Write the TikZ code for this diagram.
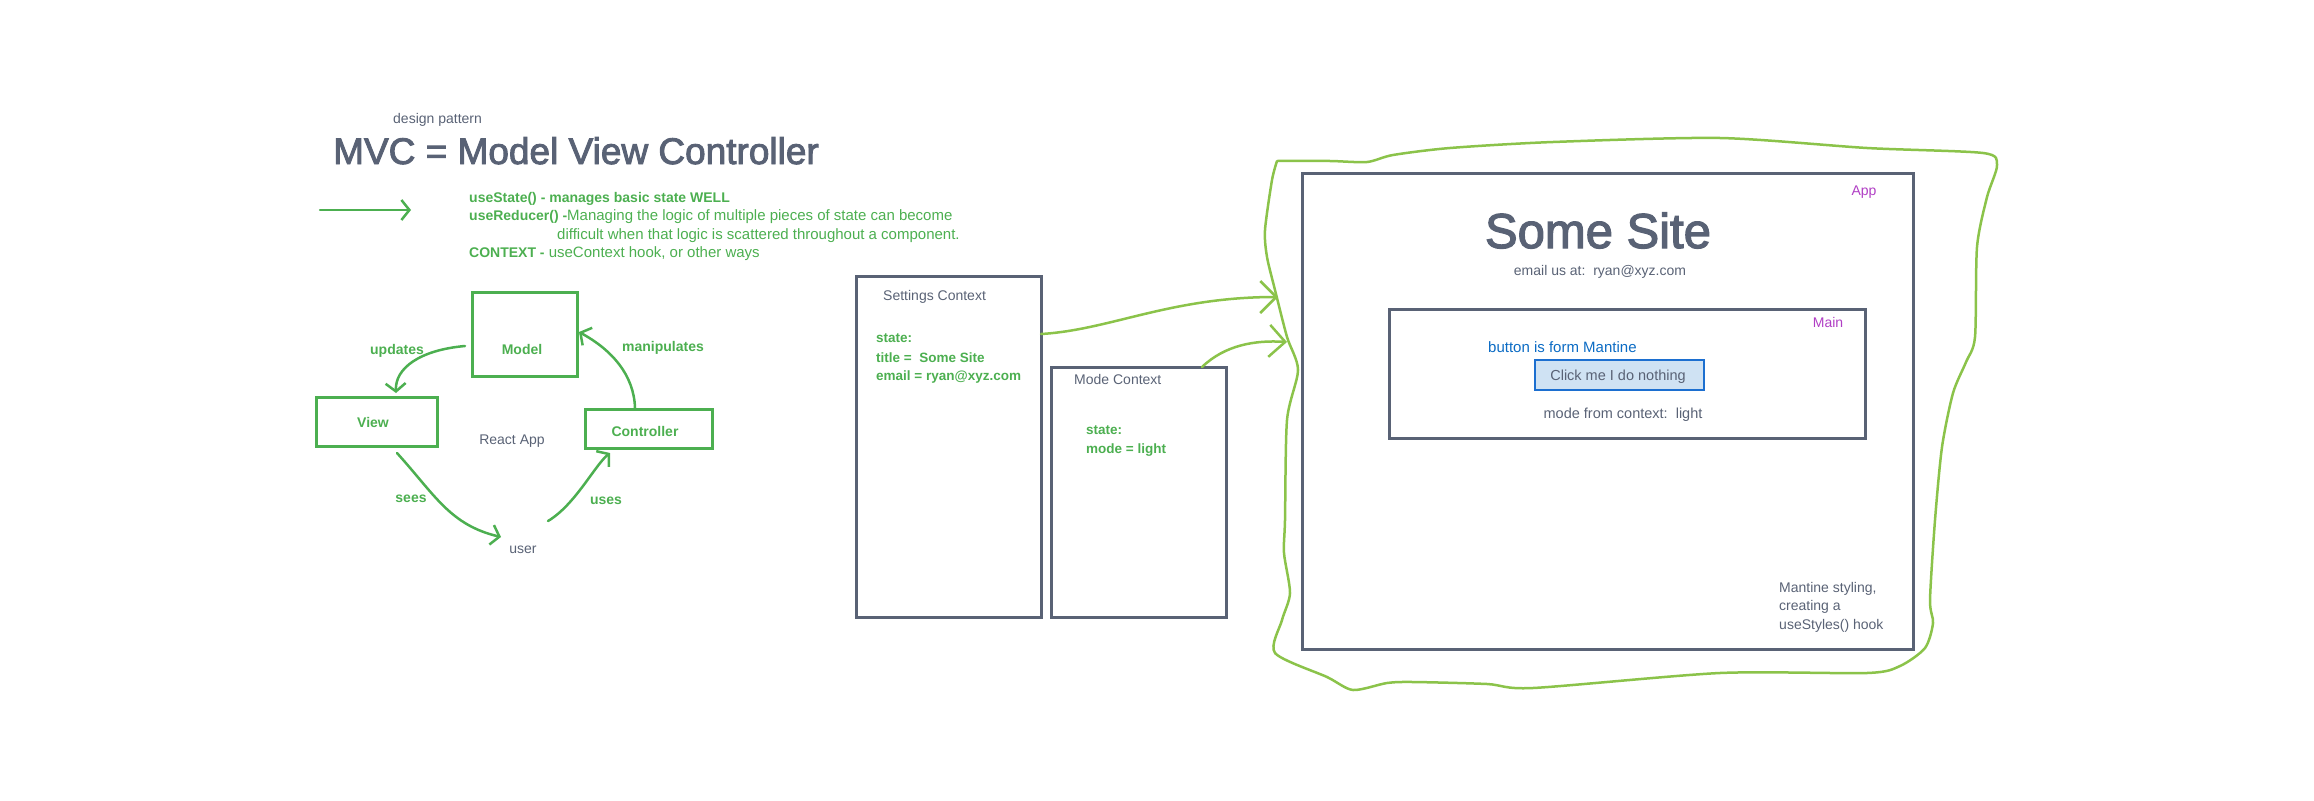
\documentclass[tikz,border=0pt]{standalone}
\usepackage{fontspec}
\setmainfont{Liberation Sans}
\newfontface\medfont{Liberation Sans}[FakeBold=2.5]
\usetikzlibrary{arrows.meta}
\definecolor{slate}{HTML}{596275}
\definecolor{mvcgreen}{HTML}{4CAF50}
\definecolor{limeline}{HTML}{8BC34A}
\definecolor{grape}{HTML}{B03EC4}
\definecolor{mblue}{HTML}{0B6BC4}
\definecolor{btnfill}{HTML}{CFE2F3}
\definecolor{btnline}{HTML}{1C6FD0}
\newcommand\setfs[1]{\fontsize{#1}{#1}\selectfont}
\begin{document}
\begin{tikzpicture}[x=1pt,y=-1pt,
  txt/.style={inner sep=0, anchor=base west, text=slate, font=\setfs{14}},
  ctxt/.style={inner sep=0, anchor=base, text=slate, font=\setfs{14}},
  gtxt/.style={inner sep=0, anchor=base west, text=mvcgreen, font=\setfs{15}},
  glabel/.style={inner sep=0, anchor=base, text=mvcgreen, font=\bfseries\setfs{14}},
  graybox/.style={draw=slate, line width=3pt, inner sep=0},
  greenbox/.style={draw=mvcgreen, line width=3pt, inner sep=0},
  garrow/.style={draw=mvcgreen, line width=2.5pt, line cap=round, line join=round,
    -{Straight Barb[length=8pt,width=20pt,line width=2.5pt]}},
  larrow/.style={draw=limeline, line width=2.5pt, line cap=round, line join=round,
    -{Straight Barb[length=16pt,width=32pt,line width=2.5pt]}},
  outline/.style={draw=limeline, line width=2.5pt, line cap=round, line join=round}
]
\useasboundingbox (0,0) rectangle (2314,800);

% ---------- title block ----------
\node[txt, font=\setfs{14}] (dp) at (393,123) {design pattern};
\node[txt, font=\medfont\setfs{37}] (title) at (333,164) {MVC = Model View Controller};
\coordinate (a0) at (320,210);
\coordinate (a1) at (411,210);
\draw[garrow] (a0) -- (a1);
\node[gtxt] (l1) at (469,202) {\bfseries\setfs{14}useState() - manages basic state WELL};
\node[gtxt] (l2) at (469,220) {{\bfseries\setfs{14}useReducer() -}Managing the logic of multiple pieces of state can become};
\node[gtxt] (l3) at (557,239) {difficult when that logic is scattered throughout a component.};
\node[gtxt] (l4) at (469,257) {{\bfseries\setfs{14}CONTEXT -} useContext hook, or other ways};

% ---------- MVC diagram ----------
\node[greenbox, minimum width=105pt, minimum height=84pt] (model) at (524.5,334) {};
\node[greenbox, minimum width=121pt, minimum height=49pt] (view) at (376.5,421.5) {};
\node[greenbox, minimum width=127pt, minimum height=39pt] (ctrl) at (648.5,428.5) {};
\node[glabel] (modelT) at (522,354) {Model};
\node[glabel] (viewT) at (373,427) {View};
\node[glabel] (ctrlT) at (645,436) {Controller};
\node[ctxt] (react) at (512,444) {React App};
\node[ctxt] (user) at (523,553) {user};
\node[glabel] (updT) at (397,354) {updates};
\node[glabel] (manT) at (663,351) {manipulates};
\node[glabel] (seeT) at (411,502) {sees};
\node[glabel] (useT) at (606,504) {uses};

\coordinate (u0) at (465,346);
\coordinate (u1) at (396,393);
\draw[garrow] (u0) .. controls (420,350) and (395,368) .. (u1);
\coordinate (m0) at (635,408);
\coordinate (m1) at (579,332);
\draw[garrow] (m0) .. controls (634,375) and (612,350) .. (m1);
\coordinate (s0) at (397,453);
\coordinate (s1) at (501,537);
\draw[garrow] (s0) .. controls (435,495) and (450,525) .. (s1);
\coordinate (c0) at (548,521);
\coordinate (c1) at (610,453);
\draw[garrow] (c0) .. controls (575,505) and (595,465) .. (c1);

% ---------- contexts ----------
\node[graybox, minimum width=185pt, minimum height=341pt] (settings) at (948.5,446.5) {};
\node[graybox, minimum width=175pt, minimum height=250pt] (mode) at (1138.5,492) {};
\node[txt] (setT) at (883,300) {Settings Context};
\node[gtxt, font=\bfseries\setfs{13.5}] (st1) at (876,342) {state:};
\node[gtxt, font=\bfseries\setfs{13.5}] (st2) at (876,362) {title =\ \ Some Site};
\node[gtxt, font=\bfseries\setfs{13.5}] (st3) at (876,380) {email = ryan@xyz.com};
\node[txt] (modeT) at (1074,384) {Mode Context};
\node[gtxt, font=\bfseries\setfs{13.5}] (mt1) at (1086,434) {state:};
\node[gtxt, font=\bfseries\setfs{13.5}] (mt2) at (1086,453) {mode = light};

% ---------- App ----------
\node[graybox, minimum width=611pt, minimum height=476pt] (app) at (1607.5,411) {};
\node[graybox, minimum width=476pt, minimum height=129pt] (main) at (1627,373.5) {};
\node[ctxt, text=grape] (appT) at (1864,195) {App};
\node[ctxt, font=\medfont\setfs{49}] (site) at (1598,248) {Some Site};
\node[ctxt, font=\setfs{14}] (email) at (1600,275) {email us at:\ \ ryan@xyz.com};
\node[ctxt, text=grape] (mainT) at (1828,327) {Main};
\node[txt, text=mblue, font=\setfs{15}] (btnT) at (1488,352) {button is form Mantine};
\node[draw=btnline, fill=btnfill, line width=2.5pt, inner sep=0,
      minimum width=169pt, minimum height=30pt] (btn) at (1619.5,375) {};
\node[ctxt, font=\setfs{14.5}] (btnL) at (1618,380) {Click me I do nothing};
\node[ctxt, font=\setfs{14.5}] (modeFrom) at (1623,418) {mode from context:\ \ light};
\node[txt] (ms1) at (1779,592) {Mantine styling,};
\node[txt] (ms2) at (1779,610) {creating a};
\node[txt] (ms3) at (1779,629) {useStyles() hook};

% ---------- green outline ----------
\draw[outline] plot[smooth, tension=0.45] coordinates {
 (1277,161) (1330,161) (1367,162) (1393,155) (1450,148) (1553,142) (1720,138)
 (1867,148) (1983,153) (1997,165) (1987,197) (1977,247) (1975,337) (1966,362)
 (1953,393) (1942,447) (1935,520) (1930,600) (1933,623) (1925,648) (1900,666)
 (1867,673) (1720,673) (1533,688) (1487,684) (1413,682) (1387,683) (1353,690)
 (1327,677) (1275,653) (1282,620) (1290,593) (1284,553) (1285,520) (1287,420)
 (1298,370) (1287,337) (1275,290) (1267,257) (1265,230) (1272,180) (1277,161)};

% ---------- arrows into App ----------
\coordinate (p0) at (1041,334);
\coordinate (p1) at (1278,297);
\draw[larrow] (p0) .. controls (1110,330) and (1170,297) .. (p1);
\coordinate (q0) at (1202,367);
\coordinate (q1) at (1287,342);
\draw[larrow] (q0) .. controls (1225,345) and (1255,340) .. (q1);
\end{tikzpicture}
\end{document}
